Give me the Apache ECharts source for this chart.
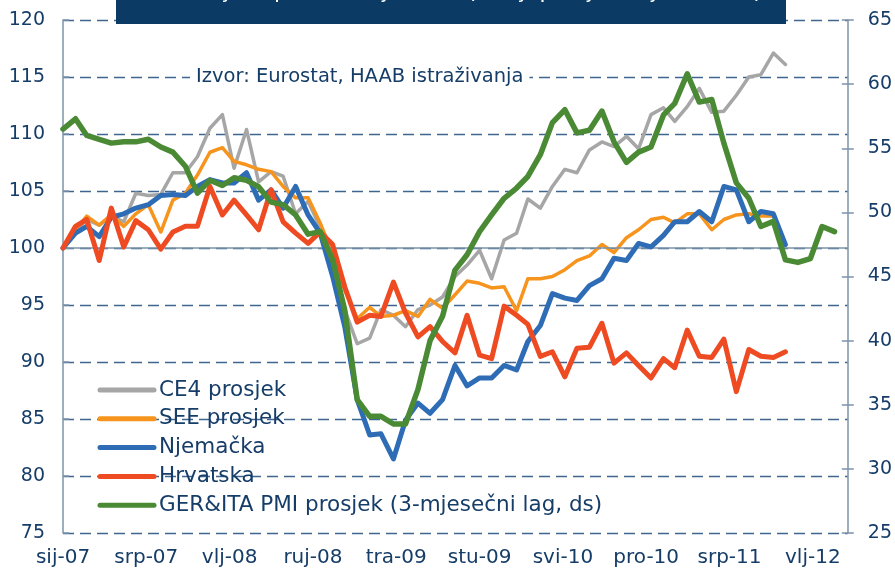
<!DOCTYPE html>
<html><head><meta charset="utf-8">
<script src="https://cdn.jsdelivr.net/npm/echarts@6/dist/echarts.min.js"></script>
<style>html,body{margin:0;padding:0;background:#fff}#c{width:895px;height:579px}</style>
</head><body><div id="c"></div>
<script>
// ---- data ----
const monthNames = ['sij','vlj','ožu','tra','svi','lip','srp','kol','ruj','lis','stu','pro'];
const startYear = 2007;
const monthCount = 64; // sij-07 .. tra-12
const seriesNames = ['CE4 prosjek','SEE prosjek','Njemačka','Hrvatska','GER&ITA PMI prosjek (3-mjesečni lag, ds)'];
const ce4 = [100,101.5,102.5,102.0,102.8,102.3,104.8,104.6,104.7,106.6,106.6,108.0,110.5,111.7,107.0,110.4,105.8,106.7,106.3,103.0,
  104.1,101.8,99.5,94.6,91.6,92.1,94.6,94.1,93.1,94.6,95.0,95.7,97.5,98.5,99.8,97.3,100.7,101.3,104.3,103.5,
  105.4,106.9,106.6,108.6,109.3,108.9,109.8,108.7,111.7,112.3,111.1,112.4,114.0,111.9,112.0,113.4,115.0,115.2,117.1,116.1];
const see = [100,101.6,102.8,102.0,102.9,101.9,103.0,103.8,101.4,104.2,104.8,106.4,108.4,108.8,107.6,107.3,106.9,106.7,105.4,104.4,
  104.4,102.2,99.5,96.3,93.8,94.8,94.0,94.1,94.5,94.0,95.5,94.7,95.9,97.1,96.9,96.5,96.6,94.5,97.3,97.3,
  97.5,98.1,98.9,99.3,100.3,99.6,100.9,101.6,102.5,102.7,102.2,103.0,103.0,101.6,102.5,102.9,103.0,102.8,102.8];
const njemacka = [100,101.3,101.9,101.0,102.7,103.0,103.5,103.8,104.6,104.7,104.6,105.4,106.0,105.7,105.7,106.6,104.2,105.1,103.5,105.4,
  102.9,101.3,97.5,93.1,86.7,83.6,83.7,81.5,84.9,86.4,85.5,86.7,89.7,87.9,88.6,88.6,89.7,89.3,91.8,93.2,
  96.0,95.6,95.4,96.7,97.3,99.1,98.9,100.4,100.1,101.1,102.3,102.3,103.2,102.3,105.4,105.1,102.3,103.2,103.0,100.3];
const hrvatska = [100,101.9,102.5,98.9,103.5,100.1,102.4,101.6,99.9,101.4,101.9,101.9,105.4,102.9,104.2,102.9,101.6,105.1,102.3,101.3,
  100.4,101.4,100.3,96.6,93.5,94.1,94.0,97.0,94.3,92.2,93.1,91.8,90.8,94.1,90.6,90.3,94.9,94.1,93.3,90.5,
  90.9,88.7,91.2,91.3,93.4,89.9,90.8,89.7,88.6,90.3,89.5,92.8,90.5,90.4,92.0,87.4,91.1,90.5,90.4,90.9];
const pmi = [56.5,57.3,56.0,55.7,55.4,55.5,55.5,55.7,55.1,54.7,53.6,51.5,52.5,52.1,52.7,52.5,52.0,50.8,50.6,49.8,
  48.3,48.5,46.3,42.4,35.4,34.1,34.1,33.5,33.5,36.2,40.0,41.9,45.5,46.7,48.5,49.8,51.1,51.9,52.8,54.5,
  57.0,58.0,56.2,56.4,57.9,55.5,53.9,54.7,55.1,57.6,58.5,60.8,58.6,58.8,55.4,52.3,51.1,48.9,49.3,46.3,
  46.1,46.4,48.9,48.5];
const leftMin = 75, leftMax = 120, leftStep = 5;
const rightMin = 25, rightMax = 65, rightStep = 5;
const baseline = 100;
const labelStepDays = 207;
const axisMaxDays = 1950;
const sourceText = 'Izvor: Eurostat, HAAB istraživanja';
const titleText = 'Industrijska proizvodnja i PMI (3-mj. prosjek, sij-07=100)';

// ---- helpers ----
const DAY = 86400000;
const t0 = Date.UTC(startYear, 0, 1);
const dayOf = i => Math.round((Date.UTC(startYear, i, 1) - t0) / DAY);
const toPairs = arr => arr.map((v, i) => [dayOf(i), v]);
const fmtX = v => {
  if (v % labelStepDays !== 0) return '';
  const d = new Date(t0 + v * DAY);
  return monthNames[d.getUTCMonth()] + '-' + String(d.getUTCFullYear()).slice(2);
};

const navy = '#163d68';
const axisCol = '#7d93aa';
const font = 'DejaVu Sans';
const colors = ['#a6a6a6','#f7941d','#2e6db6','#ef4b23','#4b8a35'];
const widths = [3.5, 3.5, 5, 5, 5.5];
const datas = [ce4, see, njemacka, hrvatska, pmi];

const chart = echarts.init(document.getElementById('c'), null, {renderer: 'canvas'});
const series = datas.map((d, k) => ({
  name: seriesNames[k],
  type: 'line',
  yAxisIndex: k === 4 ? 1 : 0,
  data: toPairs(d),
  symbol: 'none',
  smooth: false,
  animation: false,
  lineStyle: {color: colors[k], width: widths[k], join: 'round', cap: 'round'},
  itemStyle: {color: colors[k]},
  z: 3 + k,
  markLine: k === 0 ? {
    silent: true, symbol: 'none', label: {show: false},
    lineStyle: {color: axisCol, type: 'solid', width: 1.5},
    data: [{yAxis: baseline}]
  } : undefined
}));

// legend drawn as line swatch + text (chart furniture)
const legendX = 100, legendY = 390, legendStep = 28.8, swatchLen = 54;
const legendGraphics = [];
seriesNames.forEach((n, k) => {
  const y = legendY + k * legendStep;
  legendGraphics.push({type: 'line', shape: {x1: legendX, y1: y, x2: legendX + swatchLen, y2: y},
    style: {stroke: colors[k], lineWidth: 5, lineCap: 'round'}, z: 20});
  legendGraphics.push({type: 'text', x: legendX + swatchLen + 5, y: y,
    style: {text: n, fill: navy, font: '21.5px "DejaVu Sans"', textVerticalAlign: 'middle'}, z: 20});
});

chart.setOption({
  animation: false,
  backgroundColor: '#fff',
  textStyle: {fontFamily: font},
  grid: {left: 63, right: 47, top: 20, bottom: 46, containLabel: false},
  xAxis: {
    type: 'value', min: 0, max: axisMaxDays, interval: labelStepDays,
    axisLine: {show: false}, axisTick: {show: false}, splitLine: {show: false},
    axisLabel: {formatter: fmtX, color: navy, fontSize: 20, fontFamily: font, margin: 15, showMaxLabel: false, hideOverlap: false}
  },
  yAxis: [
    {
      type: 'value', position: 'left', min: leftMin, max: leftMax, interval: leftStep,
      axisLine: {show: true, lineStyle: {color: axisCol, width: 1.5}},
      axisTick: {show: true, inside: true, length: 6, lineStyle: {color: axisCol, width: 1.5}},
      axisLabel: {color: navy, fontSize: 19, fontFamily: font, margin: 18},
      splitLine: {show: true, lineStyle: {color: '#3f6690', type: [11, 6], width: 1.3}}
    },
    {
      type: 'value', position: 'right', min: rightMin, max: rightMax, interval: rightStep,
      axisLine: {show: true, lineStyle: {color: axisCol, width: 1.5}},
      axisTick: {show: true, inside: false, length: 6, lineStyle: {color: axisCol, width: 1.5}},
      axisLabel: {color: navy, fontSize: 19, fontFamily: font, margin: 20},
      splitLine: {show: false}
    },
    {
      type: 'value', position: 'right', offset: 0, min: rightMin, max: rightMax, interval: rightStep,
      axisLine: {show: false},
      axisTick: {show: true, inside: true, length: 6, lineStyle: {color: axisCol, width: 1.5}},
      axisLabel: {show: false},
      splitLine: {show: false}
    }
  ],
  graphic: [
    {type: 'rect', left: 116, top: 0, shape: {width: 670, height: 24}, style: {fill: '#0b3b65'}, z: 10},
    {type: 'text', x: 451, y: 3, style: {text: titleText, fill: '#ffffff', font: '22px "DejaVu Sans"', textAlign: 'center', textVerticalAlign: 'bottom'}, z: 11},
    {type: 'text', x: 190, y: 77, style: {text: sourceText, fill: navy, font: '19.5px "DejaVu Sans"', textVerticalAlign: 'middle', backgroundColor: '#fff', padding: [2, 6, 2, 6]}, z: 10}
  ].concat(legendGraphics),
  series: series
});
</script></body></html>
